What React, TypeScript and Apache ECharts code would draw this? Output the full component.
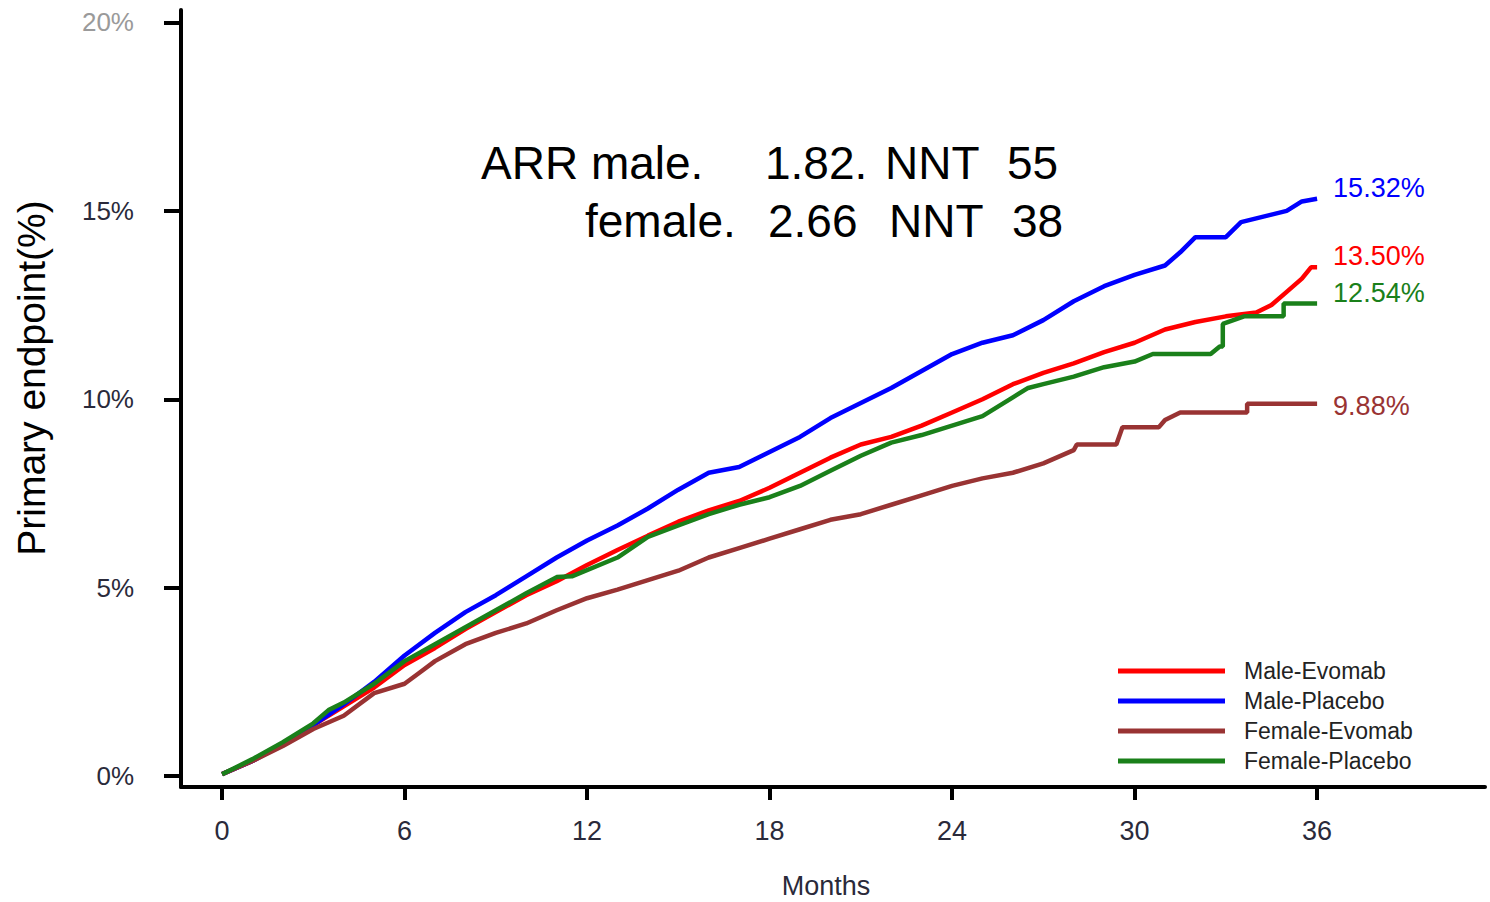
import React, { useEffect, useRef } from "react";
import * as echarts from "echarts";

const seriesNames = ["Male-Evomab", "Male-Placebo", "Female-Evomab", "Female-Placebo"];
const seriesColors = ["#ff0000", "#0000ff", "#993333", "#1a801a"];

// [month, cumulative %]
const maleEvomab: [number, number][] = [
  [0, 0.05], [1, 0.4], [2, 0.85], [3, 1.35], [4, 1.85], [5, 2.35], [6, 2.95], [7, 3.4],
  [8, 3.9], [9, 4.35], [10, 4.8], [11, 5.17], [12, 5.6], [13, 6.0], [14, 6.38], [15, 6.75],
  [16, 7.05], [17, 7.3], [18, 7.65], [19, 8.05], [20, 8.45], [21, 8.8], [22, 9.0], [23, 9.3],
  [24, 9.65], [25, 10.0], [26, 10.4], [27, 10.7], [28, 10.95], [29, 11.25], [30, 11.5],
  [31, 11.85], [32, 12.05], [33, 12.2], [34, 12.3], [34.5, 12.5], [35, 12.85], [35.5, 13.2],
  [35.8, 13.5], [36, 13.5],
];
const malePlacebo: [number, number][] = [
  [0, 0.05], [1, 0.4], [2, 0.85], [3, 1.35], [4, 1.9], [5, 2.5], [6, 3.2], [7, 3.8],
  [8, 4.35], [9, 4.8], [10, 5.3], [11, 5.8], [12, 6.25], [13, 6.65], [14, 7.1], [15, 7.6],
  [16, 8.05], [17, 8.2], [18, 8.6], [19, 9.0], [20, 9.5], [21, 9.9], [22, 10.3], [23, 10.75],
  [24, 11.2], [25, 11.5], [26, 11.7], [27, 12.1], [28, 12.6], [29, 13.0], [30, 13.3],
  [31, 13.55], [31.5, 13.9], [32, 14.3], [33, 14.3], [33.5, 14.7], [34, 14.8], [35, 15.0],
  [35.5, 15.25], [36, 15.32],
];
const femaleEvomab: [number, number][] = [
  [0, 0.05], [1, 0.4], [2, 0.8], [3, 1.25], [4, 1.6], [5, 2.2], [6, 2.45], [6.5, 2.75],
  [7, 3.05], [8, 3.5], [9, 3.8], [10, 4.05], [11, 4.4], [12, 4.72], [13, 4.95], [14, 5.2],
  [15, 5.45], [16, 5.8], [17, 6.05], [18, 6.3], [19, 6.55], [20, 6.8], [21, 6.95], [22, 7.2],
  [23, 7.45], [24, 7.7], [25, 7.9], [26, 8.05], [27, 8.3], [28, 8.65], [28.1, 8.8],
  [29.4, 8.8], [29.6, 9.26], [30.8, 9.26], [31, 9.45], [31.5, 9.65], [33.7, 9.65],
  [33.7, 9.88], [36, 9.88],
];
const femalePlacebo: [number, number][] = [
  [0, 0.05], [1, 0.45], [2, 0.9], [3, 1.4], [3.5, 1.75], [4, 1.95], [5, 2.45], [6, 3.05],
  [7, 3.5], [8, 3.95], [9, 4.4], [10, 4.85], [11, 5.28], [11.5, 5.3], [13, 5.8], [14, 6.35],
  [15, 6.65], [16, 6.95], [17, 7.2], [18, 7.4], [19, 7.7], [20, 8.1], [21, 8.5],
  [22, 8.85], [23, 9.05], [24, 9.3], [25, 9.55], [26, 10.05], [26.5, 10.3], [27, 10.4],
  [28, 10.6], [29, 10.85], [30, 11.0], [30.6, 11.2], [32.5, 11.2], [32.8, 11.4], [32.9, 11.4],
  [32.9, 12.0], [33.6, 12.2], [34.9, 12.2], [34.9, 12.54], [36, 12.54],
];

const xTicks = [0, 6, 12, 18, 24, 30, 36];
const yTicks = [0, 5, 10, 15, 20];
const endLabelOffsets: [number, number][] = [[0, -11], [0, -11], [0, 2], [0, -11]];

const FONT = "'Liberation Sans', Arial, sans-serif";

export default function App() {
  const ref = useRef<HTMLDivElement>(null);
  useEffect(() => {
    if (!ref.current) return;
    const chart = echarts.init(ref.current, null, { renderer: "svg" });
    const datasets = [maleEvomab, malePlacebo, femaleEvomab, femalePlacebo];
    chart.setOption({
      animation: false,
      backgroundColor: "#ffffff",
      textStyle: { fontFamily: FONT },
      grid: { left: 181, right: 5, top: 10, bottom: 115, containLabel: false },
      xAxis: {
        type: "value",
        min: -1.35,
        max: 41.52,
        axisLine: { show: true, onZero: false, lineStyle: { color: "#000", width: 4 } },
        axisTick: { show: true, customValues: xTicks, length: 13, lineStyle: { color: "#000", width: 4 } },
        axisLabel: {
          customValues: xTicks,
          margin: 30,
          fontSize: 27,
          color: "#2a2a3a",
          fontFamily: FONT,
        },
        splitLine: { show: false },
      },
      yAxis: {
        type: "value",
        min: -0.29,
        max: 20.33,
        axisLine: { show: true, onZero: false, lineStyle: { color: "#000", width: 4 } },
        axisTick: { show: true, customValues: yTicks, length: 17, lineStyle: { color: "#000", width: 4 } },
        axisLabel: {
          customValues: yTicks,
          margin: 47,
          fontSize: 26,
          fontFamily: FONT,
          formatter: (v: number) => `${v}%`,
          color: (v: any) => (Number(v) === 20 ? "#9a9a9a" : "#2a2a3a"),
        },
        splitLine: { show: false },
      },
      legend: {
        orient: "vertical",
        left: 1113,
        top: 654,
        icon: "rect",
        itemWidth: 107,
        itemHeight: 5,
        itemGap: 6,
        data: seriesNames,
        textStyle: { fontSize: 23, color: "#222", fontFamily: FONT, padding: [0, 0, 0, 14], lineHeight: 24 },
      },
      graphic: [
        { type: "text", x: 31, y: 378, rotation: Math.PI / 2, style: { text: "Primary endpoint(%)", font: `39px ${FONT}`, fill: "#000", align: "center", verticalAlign: "middle" } },
        { type: "text", x: 826, y: 886, style: { text: "Months", font: `27px ${FONT}`, fill: "#2a2a3a", align: "center", verticalAlign: "middle" } },
        { type: "text", x: 481, y: 163, style: { text: "ARR male.", font: `46px ${FONT}`, fill: "#000", align: "left", verticalAlign: "middle" } },
        { type: "text", x: 765, y: 163, style: { text: "1.82.", font: `46px ${FONT}`, fill: "#000", align: "left", verticalAlign: "middle" } },
        { type: "text", x: 885, y: 163, style: { text: "NNT", font: `46px ${FONT}`, fill: "#000", align: "left", verticalAlign: "middle" } },
        { type: "text", x: 1007, y: 163, style: { text: "55", font: `46px ${FONT}`, fill: "#000", align: "left", verticalAlign: "middle" } },
        { type: "text", x: 585, y: 221, style: { text: "female.", font: `46px ${FONT}`, fill: "#000", align: "left", verticalAlign: "middle" } },
        { type: "text", x: 768, y: 221, style: { text: "2.66", font: `46px ${FONT}`, fill: "#000", align: "left", verticalAlign: "middle" } },
        { type: "text", x: 889, y: 221, style: { text: "NNT", font: `46px ${FONT}`, fill: "#000", align: "left", verticalAlign: "middle" } },
        { type: "text", x: 1012, y: 221, style: { text: "38", font: `46px ${FONT}`, fill: "#000", align: "left", verticalAlign: "middle" } },
      ],
      series: seriesNames.map((name, i) => ({
        name,
        type: "line",
        data: datasets[i],
        showSymbol: false,
        symbol: "none",
        color: seriesColors[i],
        lineStyle: { color: seriesColors[i], width: 4.5 },
        endLabel: {
          show: true,
          distance: 16,
          offset: endLabelOffsets[i],
          fontSize: 27,
          fontFamily: FONT,
          color: seriesColors[i],
          formatter: (p: any) => `${Number(p.value[1]).toFixed(2)}%`,
        },
        emphasis: { disabled: true },
      })),
    });
    return () => chart.dispose();
  }, []);
  return (
    <div
      ref={ref}
      style={{ position: "fixed", left: 0, top: 0, width: 1490, height: 902, background: "#fff" }}
    />
  );
}
